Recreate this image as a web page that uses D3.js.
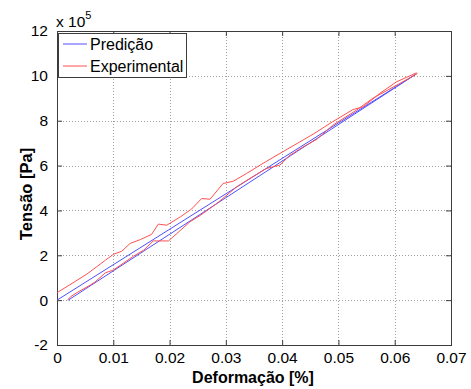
<!DOCTYPE html>
<html><head><meta charset="utf-8">
<script src="https://cdn.jsdelivr.net/npm/d3@7"></script>
<style>body{margin:0;background:#fff}svg{display:block}text{font-family:"Liberation Sans",Arial,sans-serif}</style>
</head><body>
<script>
const xTicks = [0,0.01,0.02,0.03,0.04,0.05,0.06,0.07];
const xTickLabels = ["0","0.01","0.02","0.03","0.04","0.05","0.06","0.07"];
const yTicks = [-2,0,2,4,6,8,10,12];
const yTickLabels = ["-2","0","2","4","6","8","10","12"];
const seriesNames = ["Predição","Experimental"];
// Predição (x10^5 Pa)
const predX = [0.0020, 0.0638, 0.0000];
const predY = [0.00, 10.08, 0.00];
// Experimental loop: loading then unloading (x10^5 Pa)
const expX = [0.0019,0.0024,0.0035,0.0059,0.0068,0.0086,0.0100,0.0136,0.0154,0.0171,0.0198,0.0213,0.0236,0.0254,0.0284,0.0319,0.0343,0.0372,0.0396,0.0414,0.0437,0.0461,0.0490,0.0532,0.0561,0.0609,0.0640,
              0.0638,0.0603,0.0573,0.0544,0.0526,0.0490,0.0455,0.0431,0.0396,0.0366,0.0337,0.0313,0.0295,0.0272,0.0257,0.0239,0.0219,0.0195,0.0180,0.0168,0.0148,0.0130,0.0115,0.0100,0.0086,0.0053,0.0000];
const expY = [0.00,0.15,0.33,0.67,0.82,1.22,1.34,1.96,2.23,2.64,2.64,2.97,3.49,3.77,4.31,5.05,5.43,5.87,6.02,6.46,6.83,7.16,7.80,8.47,9.00,9.66,10.10,
              10.13,9.73,9.21,8.62,8.50,7.96,7.40,7.05,6.54,6.10,5.65,5.30,5.20,4.50,4.53,4.06,3.71,3.34,3.39,2.93,2.70,2.53,2.18,2.04,1.78,1.16,0.33];
const colors = ["rgb(80,80,255)","rgb(255,80,80)"];

const W=471,H=389;
const L=57,R=451,T=31,B=345;
const svg=d3.select("body").append("svg").attr("width",W).attr("height",H);
const x=d3.scaleLinear().domain([0,0.07]).range([L,R]);
const y=d3.scaleLinear().domain([-2,12]).range([B,T]);
const axisCol="#3c3c3c";

// grid
const g=svg.append("g");
g.selectAll("line.gx").data(xTicks.slice(1,-1)).join("line")
 .attr("x1",d=>Math.round(x(d))+0.5).attr("x2",d=>Math.round(x(d))+0.5).attr("y1",T).attr("y2",B)
 .attr("stroke","#a0a0a0").attr("stroke-dasharray","1,2");
g.selectAll("line.gy").data(yTicks.slice(1,-1)).join("line")
 .attr("y1",d=>Math.round(y(d))+0.5).attr("y2",d=>Math.round(y(d))+0.5).attr("x1",L).attr("x2",R)
 .attr("stroke","#a0a0a0").attr("stroke-dasharray","1,2");

// axes with inward ticks on all sides
const ax=d3.axisBottom(x).tickValues(xTicks).tickSize(-5).tickFormat((d,i)=>xTickLabels[i]).tickPadding(7);
const axT=d3.axisTop(x).tickValues(xTicks).tickSize(-5).tickFormat("");
const ay=d3.axisLeft(y).tickValues(yTicks).tickSize(-5).tickFormat((d,i)=>yTickLabels[i]).tickPadding(9);
const ayR=d3.axisRight(y).tickValues(yTicks).tickSize(-5).tickFormat("");
function style(sel){sel.select(".domain").remove();sel.selectAll("line").attr("stroke",axisCol);
 sel.selectAll("text").attr("fill","#000").style("font-size","15.5px").style("font-family","'Liberation Sans',Arial,sans-serif");}
svg.append("g").attr("transform",`translate(0,${B})`).call(ax).call(style);
svg.append("g").attr("transform",`translate(0,${T})`).call(axT).call(style);
svg.append("g").attr("transform",`translate(${L},0)`).call(ay).call(style);
svg.append("g").attr("transform",`translate(${R},0)`).call(ayR).call(style);
svg.append("rect").attr("x",L+0.5).attr("y",T+0.5).attr("width",R-L).attr("height",B-T)
 .attr("fill","none").attr("stroke",axisCol);

// lines
const line=d3.line().x(d=>x(d[0])).y(d=>y(d[1]));
svg.append("path").datum(predX.map((v,i)=>[v,predY[i]])).attr("d",line)
 .attr("fill","none").attr("stroke",colors[0]).attr("stroke-width",1);
svg.append("path").datum(expX.map((v,i)=>[v,expY[i]])).attr("d",line)
 .attr("fill","none").attr("stroke",colors[1]).attr("stroke-width",1);

// exponent
const ex=svg.append("text").attr("x",56).attr("y",27).style("font-size","15.5px");
ex.append("tspan").text("x 10");
ex.append("tspan").attr("dy",-8).style("font-size","11px").text("5");

// labels
svg.append("text").attr("x",253).attr("y",383).attr("text-anchor","middle")
 .style("font-size","16px").style("font-weight","bold").text("Deformação [%]");
svg.append("text").attr("transform",`translate(32,194) rotate(-90)`).attr("text-anchor","middle")
 .style("font-size","16.5px").style("font-weight","bold").text("Tensão [Pa]");

// legend
const lg=svg.append("g");
lg.append("rect").attr("x",58.5).attr("y",33.5).attr("width",128).attr("height",44)
 .attr("fill","#fff").attr("stroke",axisCol);
seriesNames.forEach((n,i)=>{
 const yy=44+i*22;
 lg.append("line").attr("x1",63).attr("x2",87).attr("y1",yy).attr("y2",yy).attr("stroke",colors[i]).attr("stroke-width",1);
 lg.append("text").attr("x",90).attr("y",yy+5.5).style("font-size","16px").text(n);
});
</script>
</body></html>
